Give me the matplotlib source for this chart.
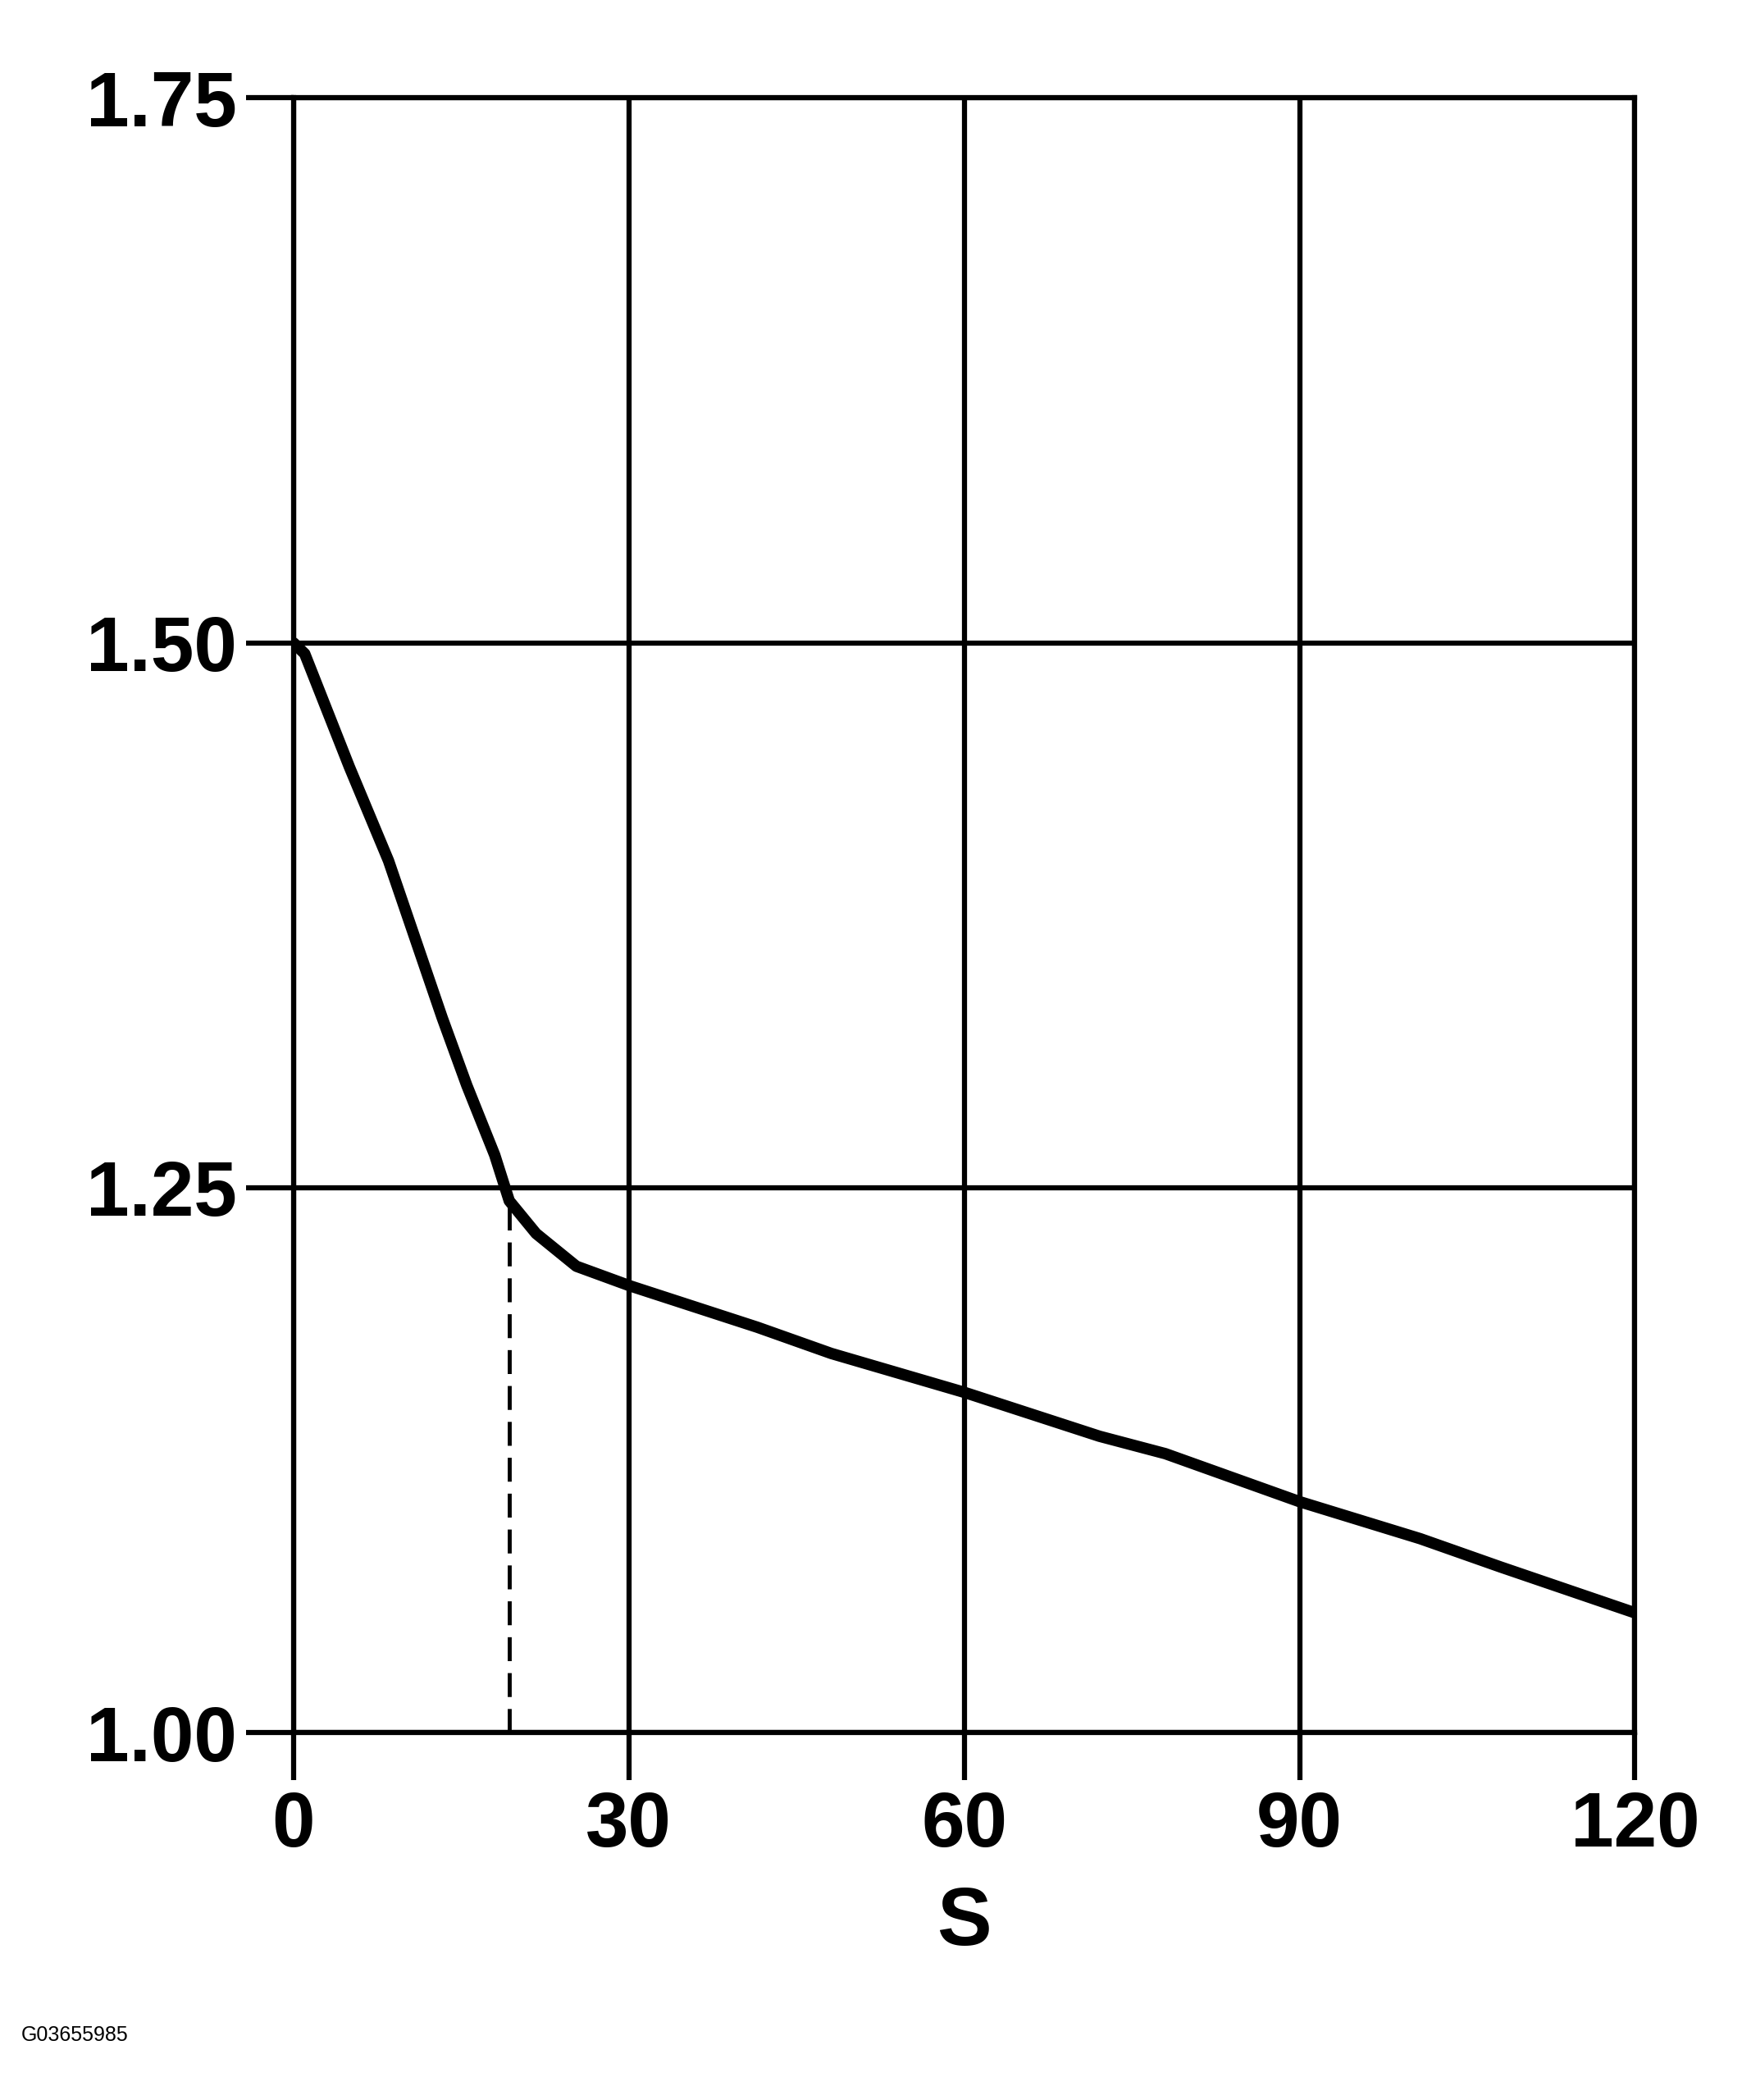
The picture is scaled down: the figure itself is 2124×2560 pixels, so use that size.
import numpy as np
import matplotlib.pyplot as plt

plt.rcParams['font.family'] = ['Liberation Sans', 'DejaVu Sans']

# curve
s_vals = [0, 1, 5, 8.5, 13.3, 15.5, 18.0, 19.3, 21.7, 25.3, 30.1, 41.5, 48.1,
          60.1, 72.1, 78, 90, 100.8, 108, 120]
y_vals = [1.50, 1.495, 1.443, 1.40, 1.328, 1.297, 1.265, 1.244, 1.229, 1.214,
          1.205, 1.186, 1.174, 1.156, 1.136, 1.128, 1.106, 1.089, 1.076, 1.055]
s_mark = 19.3
y_mark = 1.244
x_ticks = [0, 30, 60, 90, 120]
y_ticks = [1.00, 1.25, 1.50, 1.75]
y_labels = ['1.00', '1.25', '1.50', '1.75']

fig = plt.figure(figsize=(21.24, 25.6), dpi=100)
ax = fig.add_axes([0.1685, 0.1749, 0.77, 0.7785])

ax.plot(s_vals, y_vals, color='black', lw=10, solid_capstyle='round',
        solid_joinstyle='round', zorder=3)
ax.plot([s_mark, s_mark], [1.0, y_mark], color='black', lw=3.5,
        dashes=(6, 3), zorder=2)

ax.set_xlim(0, 120)
ax.set_ylim(1.0, 1.75)
ax.set_xticks(x_ticks)
ax.set_yticks(y_ticks)
ax.set_yticklabels(y_labels)
ax.grid(True, color='black', lw=4.5)
for sp in ax.spines.values():
    sp.set_linewidth(4.5)
ax.tick_params(length=42, width=4.5, labelsize=68, pad=8)
for t in ax.get_xticklabels() + ax.get_yticklabels():
    t.set_fontweight('bold')
ax.set_xlabel('S', fontsize=72, fontweight='bold', labelpad=20)

fig.text(0.012, 0.028, 'G03655985', fontsize=18)

fig.savefig('out.png', dpi=100)
